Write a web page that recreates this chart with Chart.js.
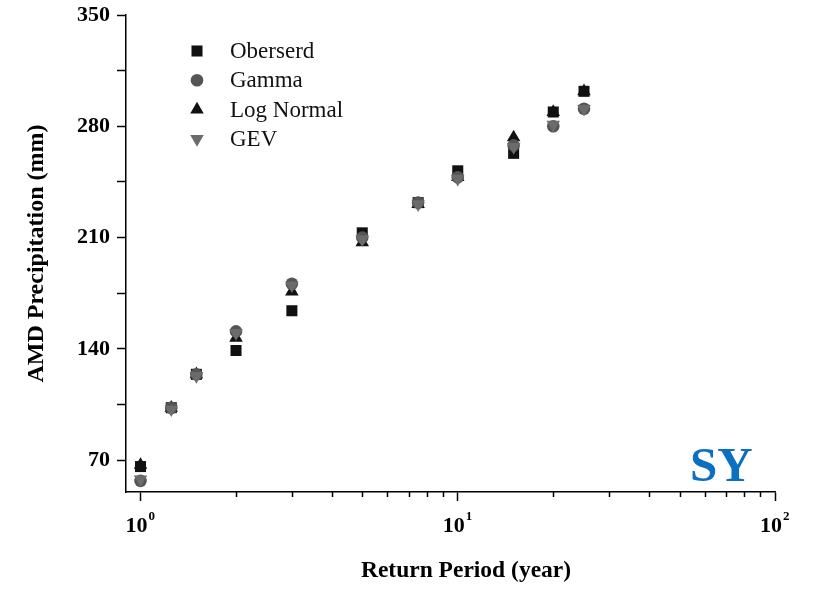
<!DOCTYPE html>
<html>
<head>
<meta charset="utf-8">
<script src="https://cdn.jsdelivr.net/npm/chart.js@4"></script>
<style>
  html, body { margin: 0; padding: 0; background: #fff; }
  #wrap { width: 813px; height: 598px; }
</style>
</head>
<body>
<div id="wrap"><canvas id="amdChart" width="813" height="598"></canvas></div>
<script>
// Return periods (years) and AMD precipitation (mm) for each distribution
const returnPeriods = [1, 1.25, 1.5, 2, 3, 5, 7.5, 10, 15, 20, 25];
const observed  = [66, 103, 124, 139, 164, 213, 232, 252, 263, 289, 302];
const gamma     = [57, 103, 124, 151, 181, 210, 232, 248, 268, 280, 291];
const logNormal = [67, 103, 124, 147, 176, 207, 231, 248, 273, 289, 302];
const gev       = [58, 102, 123, 150, 180, 209, 231, 247, 267, 281, 291];

const xMajor = [1, 10, 100];
const xExponents = ['0', '1', '2'];
const xMinor = [2, 3, 4, 5, 6, 7, 8, 9, 20, 30, 40, 50, 60, 70, 80, 90];
const yTicks = [70, 105, 140, 175, 210, 245, 280, 315, 350];
const yLabelled = [70, 140, 210, 280, 350];

const serif = "'Liberation Serif', 'Times New Roman', serif";

function toPoints(values) {
    return returnPeriods.map((p, i) => ({ x: p, y: values[i] }));
}

// legend, log-axis labels and minor ticks, x title and the SY tag
const extras = {
    id: 'extras',
    afterDraw(chart) {
        const ctx = chart.ctx;
        const xs = chart.scales.x;
        ctx.save();

        // minor ticks on the log axis
        ctx.strokeStyle = '#000';
        ctx.lineWidth = 1.5;
        xMinor.forEach(v => {
            const px = Math.round(xs.getPixelForValue(v)) + 0.5;
            ctx.beginPath();
            ctx.moveTo(px, xs.top);
            ctx.lineTo(px, xs.top + 5);
            ctx.stroke();
        });

        // 10^n labels with a raised exponent
        ctx.fillStyle = '#000';
        ctx.textBaseline = 'alphabetic';
        xMajor.forEach((v, i) => {
            const px = xs.getPixelForValue(v);
            ctx.font = 'bold 22px ' + serif;
            ctx.textAlign = 'right';
            ctx.fillText('10', px + 7, 532);
            ctx.font = 'bold 13px ' + serif;
            ctx.textAlign = 'left';
            ctx.fillText(xExponents[i], px + 8, 520);
        });

        // legend
        chart.data.datasets.forEach((ds, i) => {
            const y = 51 + i * 29.3;
            ctx.fillStyle = ds.backgroundColor;
            Chart.helpers.drawPoint(ctx, {
                pointStyle: ds.pointStyle,
                radius: ds.pointRadius,
                rotation: ds.rotation || 0,
                borderWidth: 0
            }, 197, y);
            ctx.fillStyle = '#111';
            ctx.font = '23px ' + serif;
            ctx.textAlign = 'left';
            ctx.textBaseline = 'middle';
            ctx.fillText(ds.label, 230, y + 1);
        });

        // x axis title
        ctx.fillStyle = '#000';
        ctx.font = 'bold 23.5px ' + serif;
        ctx.textAlign = 'center';
        ctx.textBaseline = 'middle';
        ctx.fillText('Return Period (year)', 466, 571);

        // station tag
        ctx.fillStyle = '#0b6fc2';
        ctx.font = 'bold 49px ' + serif;
        ctx.textAlign = 'left';
        ctx.textBaseline = 'alphabetic';
        ctx.fillText('SY', 690, 481);

        ctx.restore();
    }
};

const ctx = document.getElementById('amdChart').getContext('2d');
const amdChart = new Chart(ctx, {
    type: 'scatter',
    data: {
        datasets: [
            {
                label: 'Oberserd',
                data: toPoints(observed),
                pointStyle: 'rect',
                pointRadius: 7.8,
                backgroundColor: '#111',
                borderWidth: 0,
                order: 4
            },
            {
                label: 'Gamma',
                data: toPoints(gamma),
                pointStyle: 'circle',
                pointRadius: 6.3,
                backgroundColor: '#555',
                borderWidth: 0,
                order: 2
            },
            {
                label: 'Log Normal',
                data: toPoints(logNormal),
                pointStyle: 'triangle',
                pointRadius: 7.8,
                backgroundColor: '#111',
                borderWidth: 0,
                order: 3
            },
            {
                label: 'GEV',
                data: toPoints(gev),
                pointStyle: 'triangle',
                rotation: 180,
                pointRadius: 7.8,
                backgroundColor: '#6b6b6b',
                borderWidth: 0,
                order: 1
            }
        ]
    },
    options: {
        responsive: false,
        animation: false,
        devicePixelRatio: 1,
        layout: {
            padding: { top: 15, right: 38, left: 0, bottom: 0 }
        },
        scales: {
            x: {
                type: 'logarithmic',
                min: 0.9,
                max: 100,
                afterBuildTicks: function(scale) {
                    scale.ticks = xMajor.map(v => ({ value: v, major: true }));
                },
                afterFit: function(scale) {
                    scale.height = 106;
                    scale.paddingLeft = 0;
                    scale.paddingRight = 0;
                },
                border: { color: '#000', width: 1.5 },
                grid: {
                    drawOnChartArea: false,
                    tickLength: 9,
                    tickWidth: 1.5,
                    tickColor: '#000'
                },
                ticks: {
                    autoSkip: false,
                    maxRotation: 0,
                    display: false
                }
            },
            y: {
                min: 50,
                max: 350,
                afterBuildTicks: function(scale) {
                    scale.ticks = yTicks.map(v => ({ value: v }));
                },
                afterFit: function(scale) {
                    scale.width = 126;
                    scale.paddingTop = 0;
                    scale.paddingBottom = 0;
                },
                border: { color: '#000', width: 1.5 },
                grid: {
                    drawOnChartArea: false,
                    tickLength: 9,
                    tickWidth: 1.5,
                    tickColor: '#000'
                },
                ticks: {
                    padding: 7,
                    color: '#000',
                    font: { family: serif, size: 22, weight: 'bold' },
                    callback: function(value) {
                        return yLabelled.includes(value) ? String(value) : '';
                    }
                },
                title: {
                    display: true,
                    text: 'AMD Precipitation (mm)',
                    color: '#000',
                    font: { family: serif, size: 24, weight: 'bold' },
                    padding: { top: 22, bottom: 0 }
                }
            }
        },
        plugins: {
            legend: { display: false },
            tooltip: { enabled: false }
        }
    },
    plugins: [extras]
});
</script>
</body>
</html>
